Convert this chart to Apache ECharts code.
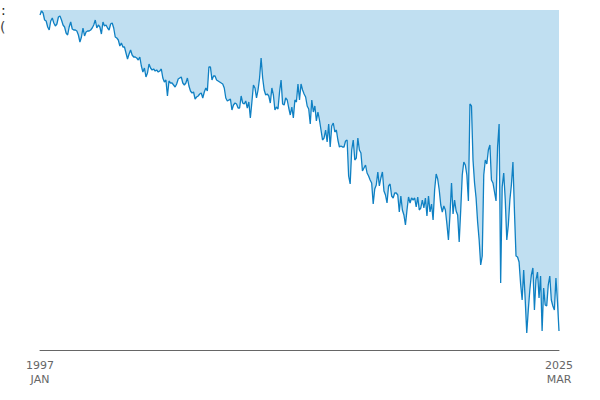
<!DOCTYPE html>
<html>
<head>
<meta charset="utf-8">
<script src="https://cdn.jsdelivr.net/npm/echarts@6/dist/echarts.min.js"></script>
<style>
  html, body { margin: 0; padding: 0; background: #fff; }
  #chart { width: 600px; height: 400px; }
</style>
</head>
<body>
<div id="chart"></div>
<script>
// monthly series, Jan 1997 .. Mar 2025 (339 months)
var startYear = 1997;
var startMonth = 0;
var monthNames = ['JAN', 'FEB', 'MAR', 'APR', 'MAY', 'JUN', 'JUL', 'AUG', 'SEP', 'OCT', 'NOV', 'DEC'];

var values = [
  335, 339, 337, 330, 329, 323, 320, 329, 332, 327, 324, 326, 333, 334, 330, 325, 323, 317, 315, 323,
  328, 321, 320, 320, 319, 315, 308, 313, 322, 314, 318, 319, 319, 320, 322, 325, 330, 322, 325, 323,
  316, 328, 324, 325, 322, 320, 326, 327, 322, 313, 312, 310, 304, 307, 303, 303, 297, 291, 296, 300,
  295, 293, 293, 292, 290, 293, 284, 278, 282, 273, 277, 286, 282, 280, 281, 279, 280, 278, 279, 281,
  272, 268, 270, 254, 269, 267, 267, 265, 263, 266, 271, 272, 273, 267, 265, 267, 272, 264, 259, 257,
  258, 251, 253, 254, 256, 257, 252, 258, 262, 259, 283, 283, 270, 274, 274, 270, 269, 268, 267, 266,
  262, 252, 249, 250, 251, 240, 245, 247, 246, 242, 242, 254, 247, 246, 249, 242, 248, 232, 248, 265,
  262, 252, 260, 272, 292, 272, 260, 255, 256, 254, 247, 262, 255, 240, 243, 241, 258, 270, 246, 245,
  252, 250, 242, 235, 243, 232, 250, 248, 266, 250, 266, 260, 256, 253, 244, 241, 226, 250, 238, 244,
  229, 238, 230, 220, 210, 212, 220, 208, 226, 203, 224, 227, 218, 220, 210, 203, 204, 203, 203,
  209, 210, 174, 166, 200, 210, 190, 192, 212, 200, 197, 179, 182, 185, 177, 174, 170, 167, 146, 161,
  165, 178, 164, 172, 178, 159, 155, 147, 164, 166, 154, 152, 157, 157, 155, 138, 154, 140, 135, 125,
  140, 153, 147, 152, 150, 152, 143, 153, 140, 142, 150, 142, 152, 134, 154, 138, 146, 130, 160, 176,
  171, 160, 145, 138, 144, 140, 126, 110, 135, 167, 136, 150, 139, 135, 108, 140, 175, 188, 185, 175,
  149, 246, 244, 190, 167, 152, 128, 110, 85, 94, 175, 190, 186, 200, 205, 170, 167, 158, 149, 203,
  226, 67, 163, 177, 150, 110, 125, 150, 165, 188, 138, 94, 93, 88, 66, 50, 80, 50, 17, 40,
  60, 75, 82, 40, 70, 78, 52, 74, 19, 62, 45, 44, 65, 74, 50, 44, 40, 72, 48, 19
];

var xLabels = [];
for (var i = 0; i < values.length; i++) {
  var m = startMonth + i;
  xLabels.push((startYear + Math.floor(m / 12)) + '\n' + monthNames[m % 12]);
}

var chart = echarts.init(document.getElementById('chart'), null, { renderer: 'svg' });
chart.setOption({
  animation: false,
  grid: { left: 40, right: 41, top: 10, bottom: 50 },
  graphic: [
    { type: 'text', left: 1, top: 3, style: { text: ':', font: '14px "DejaVu Sans"', fill: '#222' } },
    { type: 'text', left: 0, top: 20, style: { text: '(', font: '14px "DejaVu Sans"', fill: '#444' } }
  ],
  xAxis: {
    type: 'category',
    data: xLabels,
    boundaryGap: false,
    axisLine: { lineStyle: { color: '#666', width: 1 } },
    axisTick: { show: false },
    axisLabel: {
      color: '#666',
      fontSize: 11,
      fontFamily: 'DejaVu Sans',
      lineHeight: 14,
      margin: 8,
      interval: function(idx) { return idx === 0 || idx === values.length - 1; },
      showMinLabel: true,
      showMaxLabel: true
    },
    splitLine: { show: false }
  },
  yAxis: {
    type: 'value',
    min: 0,
    max: 340,
    show: false,
    splitLine: { show: false }
  },
  series: [{
    type: 'line',
    data: values,
    symbol: 'none',
    lineStyle: { color: '#0f80c3', width: 1.3 },
    areaStyle: { origin: 'end', color: '#c0dff1', opacity: 1 }
  }]
});
</script>
</body>
</html>
